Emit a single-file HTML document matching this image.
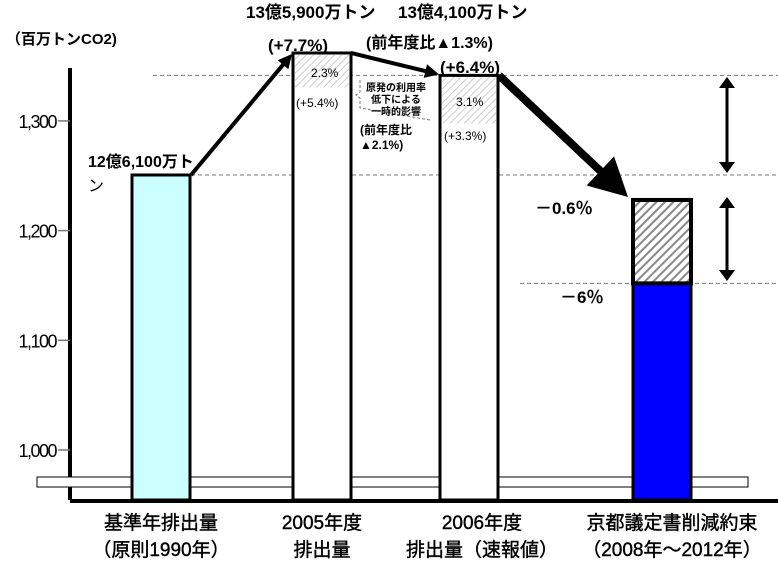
<!DOCTYPE html>
<html><head><meta charset="utf-8"><style>
body{margin:0;background:#fff;}
svg{display:block;font-family:"Liberation Sans","Noto Sans CJK JP",sans-serif;}
</style></head><body>
<svg id="chart" width="778" height="563" viewBox="0 0 778 563">
<defs>
<pattern id="hatch" width="6" height="6" patternUnits="userSpaceOnUse" patternTransform="rotate(45)">
<rect width="6" height="6" fill="#fff"/><rect width="2" height="6" fill="#888"/></pattern>
<pattern id="hatchL" width="5" height="5" patternUnits="userSpaceOnUse" patternTransform="rotate(45)">
<rect width="5" height="5" fill="#fff"/><rect width="1" height="5" fill="#ccc"/></pattern>
</defs>
<text x="6" y="44" font-size="15" font-weight="bold">（百万トンCO2)</text>
<g id="axes"></g>
<g id="bars"></g>
<g id="annot"></g>
</svg>
<script>
const categories=["基準年排出量","2005年度","2006年度","京都議定書削減約束"];
const emissions=[1261,1359,1341,1186];
const targetUpper=1253;
const tickValues=[1000,1100,1200,1300];
const tickLabels=["1,000","1,100","1,200","1,300"];
const ns="http://www.w3.org/2000/svg";
const svg=document.getElementById('chart');
function yBar(v){return 175-(v-1261)*1.245;}
function yTarget(v){return yBar(v)+15;}
function yTick(v){return 450-(v-1000)*1.097;}
const barX=[132,293,440,633],barW=58;
function mk(tag,attrs,parent,txt){const e=document.createElementNS(ns,tag);for(const k in attrs)e.setAttribute(k,attrs[k]);if(txt!==undefined)e.textContent=txt;(parent||svg).appendChild(e);return e;}
const axes=document.getElementById('axes'),bars=document.getElementById('bars'),an=document.getElementById('annot');
const barTop=emissions.map((v,i)=>i===3?yTarget(v):yBar(v));
let g;
g=mk('line',{x1:153,y1:barTop[2],x2:778,y2:barTop[2],stroke:'#777','stroke-dasharray':'4,3'},axes);

g=mk('line',{x1:191,y1:barTop[0],x2:778,y2:barTop[0],stroke:'#777','stroke-dasharray':'4,3'},axes);

g=mk('line',{x1:520,y1:barTop[3],x2:778,y2:barTop[3],stroke:'#777','stroke-dasharray':'4,3'},axes);

g=mk('line',{x1:70,y1:68,x2:70,y2:500,stroke:'#000','stroke-width':4},axes);

tickValues.forEach((v,i)=>{const y=yTick(v);
 const t=mk('line',{x1:58,y1:y,x2:70,y2:y,stroke:'#777','stroke-width':1.5},axes);
 
 const l=mk('text',{x:56,y:y+7,'font-size':18,'text-anchor':'end','letter-spacing':'-1.5'},axes,tickLabels[i]);
 });
const fills=['#ccffff','#fff','#fff','#0000ff'];
emissions.forEach((v,i)=>{const y=barTop[i];
 const r=mk('rect',{x:barX[i],y:y,width:barW,height:500-y,fill:fills[i],stroke:'#000','stroke-width':3},bars);
 });
g=mk('rect',{x:barX[1]+2,y:barTop[1]+2,width:barW-4,height:barTop[2]-barTop[1]+10,fill:'url(#hatchL)'},bars);

g=mk('rect',{x:barX[2]+2,y:barTop[2]+2,width:barW-4,height:46,fill:'url(#hatchL)'},bars);

g=mk('rect',{x:barX[3],y:yTarget(targetUpper),width:barW,height:barTop[3]-yTarget(targetUpper),fill:'url(#hatch)',stroke:'#000','stroke-width':4},bars);

g=mk('rect',{x:37,y:477,width:711,height:10,fill:'#fff',stroke:'#000','stroke-width':1},axes);

g=mk('line',{x1:70,y1:501,x2:778,y2:501,stroke:'#000','stroke-width':4},axes);

const sub=["（原則1990年）","排出量","排出量（速報値）","（2008年〜2012年）"];
const cx=[161,322,482,672];
categories.forEach((c,i)=>{
 const a=mk('text',{x:cx[i],y:529,'font-size':19,'text-anchor':'middle','stroke':'#000','stroke-width':0.4},axes,c);
 
 const b=mk('text',{x:cx[i],y:556,'font-size':19,'text-anchor':'middle','stroke':'#000','stroke-width':0.4},axes,sub[i]);
 });
function arrow(x1,y1,x2,y2,w,hl,hw,name){
 const e=mk('g',{},an);
 const dx=x2-x1,dy=y2-y1,L=Math.hypot(dx,dy),ux=dx/L,uy=dy/L;
 const bx=x2-ux*hl,by=y2-uy*hl;
 mk('line',{x1:x1,y1:y1,x2:bx+ux*2,y2:by+uy*2,stroke:'#000','stroke-width':w},e);
 mk('path',{d:`M${x2},${y2}L${bx-uy*hw},${by+ux*hw}L${bx+uy*hw},${by-ux*hw}z`,fill:'#000'},e);}
arrow(191,barTop[0],292,barTop[1]+1,4,14,7,'arrow-up');
arrow(351,barTop[1],439,barTop[2]-1,4,14,7,'arrow-2006');
arrow(499,barTop[2],628,yTarget(targetUpper)-3,8,38,20,'arrow-target');
function dbl(y1,y2,name){const e=mk('g',{},an);
 mk('line',{x1:727,y1:y1+8,x2:727,y2:y2-8,stroke:'#000','stroke-width':3},e);
 mk('path',{d:`M719,${y1+11}L727,${y1}L735,${y1+11}z M719,${y2-11}L727,${y2}L735,${y2-11}z`,fill:'#000'},e);}
dbl(77,173,'double-arrow-upper');dbl(197,281,'double-arrow-lower');
g=mk('path',{d:'M360,80 L360,92 L356,95 L360,98 L360,108 L430,120',fill:'none',stroke:'#777','stroke-width':1,'stroke-dasharray':'3,2'},an);

function txt(x,y,s,t,name,w,anchor){const e=mk('text',{x:x,y:y,'font-size':s,'font-weight':w||'bold','text-anchor':anchor||'start'},an,t);return e;}
txt(396,91,10,'原発の利用率','nuclear-note-1',null,'middle');
txt(396,103,10,'低下による','nuclear-note-2',null,'middle');
txt(396,115,10,'一時的影響','nuclear-note-3',null,'middle');
txt(246,18,17,'13億5,900万トン','label-2005-total');
txt(398,18,17,'13億4,100万トン','label-2006-total');
txt(268,51,17,'(+7.7%)','label-2005-pct');
txt(366,48,16,'(前年度比▲1.3%)','label-2006-yoy');
txt(440,73,17,'(+6.4%)','label-2006-pct');
txt(311,77,12,'2.3%','label-2005-hatch',"normal");
txt(296,107,12,'(+5.4%)','label-2005-sub',"normal");
txt(456,106,12,'3.1%','label-2006-hatch',"normal");
txt(444,140,12,'(+3.3%)','label-2006-sub',"normal");
txt(360,134,12,'(前年度比','label-yoy-2005a');
txt(360,149,12,'▲2.1%)','label-yoy-2005b');
txt(88,167,16,'12億6,100万ト','label-base-total');
txt(88,191,16,'ン','label-base-total-2',"normal");
txt(535,214,17,'－0.6％','label-minus-0-6');
txt(560,303,17,'－6％','label-minus-6');
</script>
</body></html>
